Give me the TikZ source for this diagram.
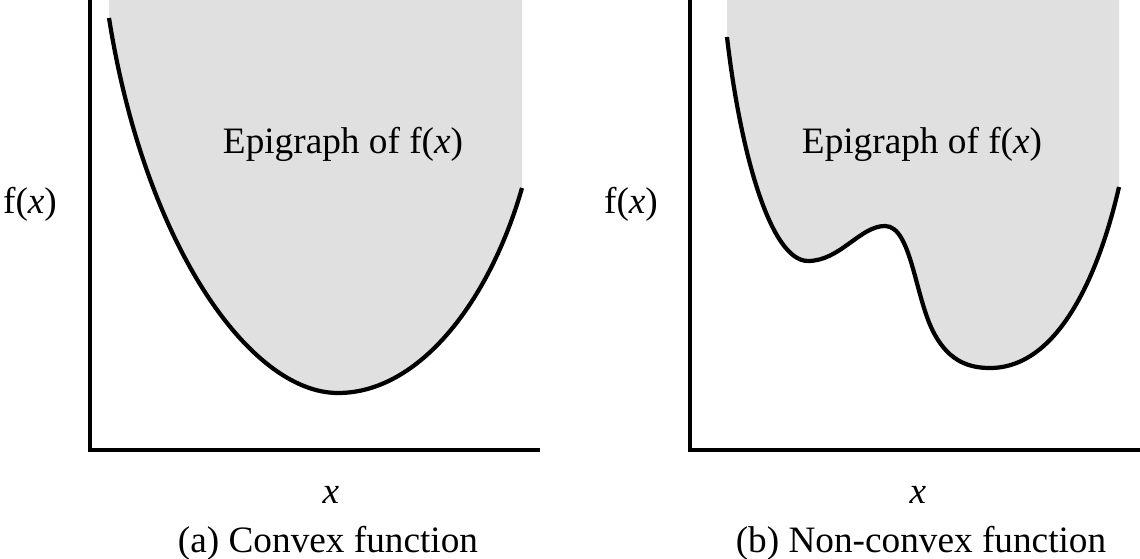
\documentclass[tikz,border=0pt]{standalone}
\usepackage{fontspec}
\setmainfont{Liberation Serif}
\usetikzlibrary{positioning}
\definecolor{epigray}{RGB}{224,224,224}

\begin{document}
\begin{tikzpicture}[x=0.025cm,y=-0.025cm,
    lbl/.style={font=\fontsize{26.5}{31}\selectfont,inner sep=0pt,anchor=base},
    epi/.style={fill=epigray},
    curve/.style={line width=3pt,line join=round},
    axis/.style={line width=3.4pt}]
  \useasboundingbox (0,0) rectangle (1140,559);
  % (a) convex
  \coordinate (sa) at (109,18);
  \coordinate (ma) at (338,393);
  \coordinate (ta) at (522,188);
  \fill[epi] (109,0) -- (sa) .. controls (145,245) and (250,393) .. (ma)
    .. controls (420,393) and (490,300) .. (ta) -- (522,0) -- cycle;
  \draw[curve] (sa) .. controls (145,245) and (250,393) .. (ma)
    .. controls (420,393) and (490,300) .. (ta);
  \coordinate (oa) at (90,450);
  \draw[axis] (90,0) -- (oa) -- (540,450);
  \node[lbl] (fa) at (30,213) {f(\textit{x})};
  \node[lbl] (ea) at (343,153) {Epigraph of f(\textit{x})};
  \node[lbl] (xa) at (331,503) {\textit{x}};
  \node[lbl] (ca) at (328,552) {(a) Convex function};
  % (b) non-convex
  \coordinate (sb) at (727,37);
  \coordinate (m1) at (808,261);
  \coordinate (pk) at (885,226);
  \coordinate (m2) at (990,368);
  \coordinate (tb) at (1119,187);
  \fill[epi] (727,0) -- (sb) .. controls (740,150) and (770,261) .. (m1)
    .. controls (840,261) and (860,226) .. (pk)
    .. controls (912,226) and (915,300) .. (935,335)
    .. controls (950,362) and (970,368) .. (m2)
    .. controls (1060,368) and (1100,270) .. (tb) -- (1119,0) -- cycle;
  \draw[curve] (sb) .. controls (740,150) and (770,261) .. (m1)
    .. controls (840,261) and (860,226) .. (pk)
    .. controls (912,226) and (915,300) .. (935,335)
    .. controls (950,362) and (970,368) .. (m2)
    .. controls (1060,368) and (1100,270) .. (tb);
  \coordinate (ob) at (690,450);
  \draw[axis] (690,0) -- (ob) -- (1140,450);
  \node[lbl] (fb) at (631,213) {f(\textit{x})};
  \node[lbl] (eb) at (922,153) {Epigraph of f(\textit{x})};
  \node[lbl] (xb) at (918,503) {\textit{x}};
  \node[lbl] (cb) at (921,552) {(b) Non-convex function};
\end{tikzpicture}
\end{document}
